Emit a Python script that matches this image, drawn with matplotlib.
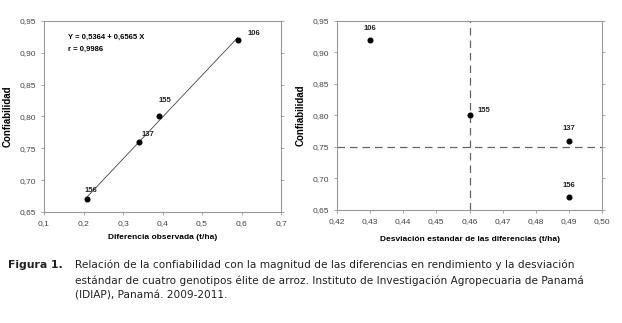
import matplotlib.pyplot as plt

genotypes = ["156", "137", "155", "106"]
diff_obs = [0.21, 0.34, 0.39, 0.59]
confiab = [0.67, 0.76, 0.80, 0.92]
desv_std = [0.49, 0.49, 0.46, 0.43]

intercept = 0.5364
slope = 0.6565

left_xticks = [0.1, 0.2, 0.3, 0.4, 0.5, 0.6, 0.7]
left_xlabels = ["0,1", "0,2", "0,3", "0,4", "0,5", "0,6", "0,7"]
yticks = [0.65, 0.70, 0.75, 0.80, 0.85, 0.90, 0.95]
ylabels = ["0,65", "0,70", "0,75", "0,80", "0,85", "0,90", "0,95"]
right_xticks = [0.42, 0.43, 0.44, 0.45, 0.46, 0.47, 0.48, 0.49, 0.50]
right_xlabels = ["0,42", "0,43", "0,44", "0,45", "0,46", "0,47", "0,48", "0,49", "0,50"]
vline_x = 0.46
hline_y = 0.75

plt.rcParams["font.family"] = ["Liberation Sans", "DejaVu Sans"]

fig = plt.figure(figsize=(6.22, 3.23), dpi=100)
ax1 = fig.add_axes([44 / 622, 1 - 212 / 323, 237 / 622, 191 / 323])
ax2 = fig.add_axes([337 / 622, 1 - 210 / 323, 265 / 622, 189 / 323])

spine_col = "#999999"
for ax in (ax1, ax2):
    for s in ax.spines.values():
        s.set_color(spine_col)
        s.set_linewidth(0.8)
    ax.tick_params(labelsize=6, length=2.5, width=0.6, color=spine_col, labelcolor="#444444")
    ax.tick_params(axis="y", right=True, direction="out")
    ax.set_yticks(yticks)
    ax.set_yticklabels(ylabels)
    ax.set_ylim(0.65, 0.95)
    ax.set_ylabel("Confiabilidad", fontsize=7, fontweight="bold", labelpad=5)

# left panel
x0, x1 = diff_obs[0], diff_obs[-1]
ax1.plot([x0, x1], [intercept + slope * x0, intercept + slope * x1], color="#444444", lw=0.6)
ax1.scatter(diff_obs, confiab, s=11, color="black", zorder=3)
ax1.set_xlim(0.1, 0.7)
ax1.set_xticks(left_xticks)
ax1.set_xticklabels(left_xlabels)
ax1.set_xlabel("Diferencia observada (t/ha)", fontsize=6, fontweight="bold", labelpad=5)
left_offsets = [(-2, 4), (2, 3), (0, 9), (7, 2)]
for g, x, y, off in zip(genotypes, diff_obs, confiab, left_offsets):
    ax1.annotate(g, (x, y), xytext=off, textcoords="offset points", fontsize=5.5,
                 fontweight="bold", color="#222222", va="bottom")
ax1.text(0.16, 0.925, "Y = 0,5364 + 0,6565 X", fontsize=5.5, fontweight="bold", va="center")
ax1.text(0.16, 0.905, "r = 0,9986", fontsize=5.5, fontweight="bold", va="center")

# right panel
ax2.axvline(vline_x, color="#666666", lw=0.9, dashes=(6, 4))
ax2.axhline(hline_y, color="#666666", lw=0.9, dashes=(6, 4))
ax2.scatter(desv_std, confiab, s=11, color="black", zorder=3)
ax2.set_xlim(0.42, 0.50)
ax2.set_xticks(right_xticks)
ax2.set_xticklabels(right_xlabels)
ax2.set_xlabel("Desviación estandar de las diferencias (t/ha)", fontsize=6, fontweight="bold", labelpad=8)
right_offsets = [(0, 6), (0, 6), (6, 1), (0, 6)]
right_ha = ["center", "center", "left", "center"]
for g, x, y, off, ha in zip(genotypes, desv_std, confiab, right_offsets, right_ha):
    ax2.annotate(g, (x, y), xytext=off, textcoords="offset points", fontsize=5.5,
                 fontweight="bold", color="#222222", ha=ha, va="bottom")

cap_font = ["DejaVu Sans"]
fig.text(8 / 622, 1 - 260 / 323, "Figura 1.", fontsize=7.8, fontweight="bold",
         family=cap_font, va="top", color="#222222")
caption = ("Relación de la confiabilidad con la magnitud de las diferencias en rendimiento y la desviación\n"
           "estándar de cuatro genotipos élite de arroz. Instituto de Investigación Agropecuaria de Panamá\n"
           "(IDIAP), Panamá. 2009-2011.")
fig.text(75 / 622, 1 - 260 / 323, caption, fontsize=7.6, family=cap_font, va="top",
         linespacing=1.55, color="#222222")

fig.savefig("out.png", dpi=100)
